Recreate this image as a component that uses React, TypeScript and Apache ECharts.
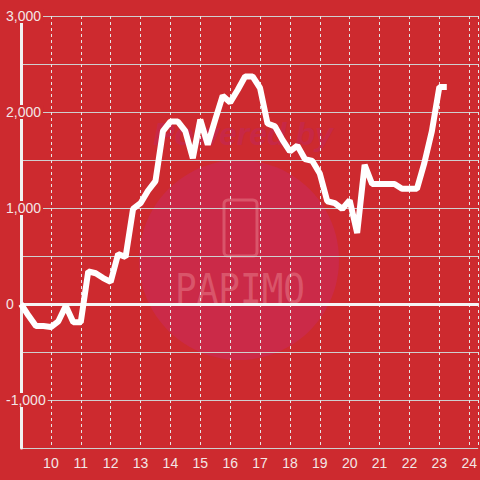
import React, { useEffect, useRef } from "react";
import * as echarts from "echarts";

const hours = [
  9.0, 9.25, 9.5, 9.75, 10.0, 10.25, 10.5, 10.75, 11.0, 11.25, 11.5, 11.75,
  12.0, 12.25, 12.5, 12.75, 13.0, 13.25, 13.5, 13.75, 14.0, 14.25, 14.5, 14.75,
  15.0, 15.25, 15.5, 15.75, 16.0, 16.25, 16.5, 16.75, 17.0, 17.25, 17.5, 17.75,
  18.0, 18.25, 18.5, 18.75, 19.0, 19.25, 19.5, 19.75, 20.0, 20.25, 20.5, 20.75,
  21.0, 21.25, 21.5, 21.75, 22.0, 22.25, 22.5, 22.75, 23.0, 23.25,
];

const values = [
  0, -120, -230, -230, -240, -180, -20, -190, -190, 340, 320, 270,
  230, 520, 490, 990, 1050, 1180, 1280, 1800, 1900, 1900, 1800, 1520,
  1920, 1660, 1920, 2170, 2100, 2230, 2370, 2370, 2250, 1880, 1850, 1710,
  1590, 1650, 1510, 1490, 1360, 1070, 1050, 990, 1080, 740, 1450, 1250,
  1250, 1250, 1250, 1200, 1200, 1200, 1470, 1800, 2260, 2260,
];

const yLabelValues = [3000, 2000, 1000, 0, -1000];

const BG = "#cd2a2f";

export default function App() {
  const ref = useRef<HTMLDivElement>(null);

  useEffect(() => {
    if (!ref.current) return;
    const chart = echarts.init(ref.current, undefined, { renderer: "svg" });
    const data = hours.map((h, i) => [h, values[i]]);
    chart.setOption({
      animation: false,
      backgroundColor: BG,
      textStyle: { fontFamily: "Liberation Sans, Arial, sans-serif" },
      graphic: [
        {
          type: "circle",
          z: -5,
          shape: { cx: 239, cy: 260, r: 100 },
          style: { fill: "#cb2a48" },
          silent: true,
        },
        {
          type: "text",
          z: -4,
          x: 243,
          y: 134,
          style: {
            text: "Powered by",
            fill: "#c72846",
            font: "italic bold 32px Liberation Sans, Arial, sans-serif",
            textAlign: "center",
            textVerticalAlign: "middle",
          },
          silent: true,
        },
        {
          type: "rect",
          z: -4,
          shape: { x: 224, y: 200, width: 33, height: 56, r: 4 },
          style: { fill: "none", stroke: "#d9556a", lineWidth: 3 },
          silent: true,
        },
        {
          type: "text",
          z: -4,
          x: 240,
          y: 289,
          scaleY: 1.15,
          style: {
            text: "PAPIMO",
            fill: "#d9556a",
            font: "36px DejaVu Sans Mono, monospace",
            textAlign: "center",
            textVerticalAlign: "middle",
          },
          silent: true,
        },
      ],
      grid: { left: 21, right: 0, top: 16, bottom: 32, containLabel: false },
      xAxis: {
        type: "value",
        min: 9,
        max: 24.3,
        interval: 1,
        axisLine: { show: true, lineStyle: { color: "#f2f2f2", width: 2 } },
        axisTick: { show: false },
        axisLabel: {
          color: "#f3e6e6",
          fontSize: 14,
          margin: 8,
          showMinLabel: false,
          showMaxLabel: false,
        },
        splitLine: {
          show: true,
          lineStyle: { color: "#e6e6e6", width: 1, type: [3, 3] },
        },
      },
      yAxis: {
        type: "value",
        min: -1500,
        max: 3000,
        interval: 500,
        axisLine: { show: true, lineStyle: { color: "#f2f2f2", width: 3 } },
        axisTick: { show: false },
        axisLabel: {
          color: "#f3e6e6",
          fontSize: 14,
          align: "left",
          margin: 15,
          backgroundColor: BG,
          padding: [0, 2, 0, 0],
          formatter: (v: number) =>
            yLabelValues.includes(v) ? v.toLocaleString("en-US") : "",
        },
        splitLine: { show: true, lineStyle: { color: "#cfcfcf", width: 1 } },
      },
      series: [
        {
          type: "line",
          data,
          showSymbol: false,
          symbol: "none",
          lineStyle: { color: "#ffffff", width: 6 },
          z: 3,
          markLine: {
            silent: true,
            symbol: "none",
            label: { show: false },
            lineStyle: { color: "#f5f5f5", width: 3, type: "solid" },
            data: [{ yAxis: 0 }],
            z: 2,
          },
        },
      ],
    });
    return () => chart.dispose();
  }, []);

  return (
    <div
      ref={ref}
      style={{ position: "fixed", left: 0, top: 0, width: 480, height: 480 }}
    />
  );
}
